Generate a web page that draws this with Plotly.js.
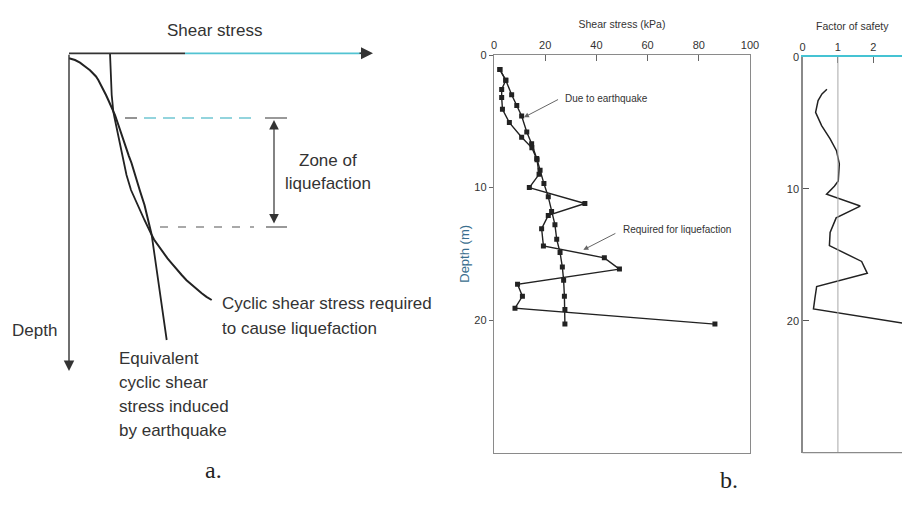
<!DOCTYPE html>
<html>
<head>
<meta charset="utf-8">
<script src="https://cdn.plot.ly/plotly-3.0.1.min.js"></script>
<style>html,body{margin:0;padding:0;background:#fff}#chart{width:902px;height:506px}</style>
</head>
<body>
<div id="chart"></div>
<script>
// ---------- Panel a: schematic curves (drawing units) ----------
const requiredCurveX = [69, 72, 75, 80, 84, 86.7, 90, 93.3, 96, 98.3, 101, 103.3, 106, 108.3, 110.6, 112.7, 115, 117.8, 120.5, 123.3, 126, 128.8, 131.5, 135.5, 140, 144.5, 148.3, 151.7, 154, 156.7, 160, 163.3, 167.5, 171.7, 176.5, 181.7, 186.5, 191.7, 196.5, 201.7, 206.5, 211.7];
const requiredCurveY = [58.3, 58.9, 60, 62.6, 65.3, 67.7, 70.3, 73.3, 76.5, 80, 84.8, 90, 95, 100, 105, 110, 115, 123.2, 131.7, 140, 148.3, 155.8, 163, 177, 191, 205, 220, 235, 239.5, 243.3, 248.5, 253.3, 258.4, 263.3, 269.3, 275, 280.2, 285, 289.4, 293.3, 296.8, 300];
const quakeCurveX = [110, 110.3, 110.7, 111.2, 111.7, 112.5, 113.3, 115, 117.5, 120, 123.3, 126.5, 131, 137.5, 144.5, 151.7, 153.8, 156.7, 159.1, 161.5, 163.9, 166.7];
const quakeCurveY = [53.3, 62, 71.7, 83, 95, 103, 111.7, 120, 132, 145, 160, 175, 190, 205, 220, 235, 250, 270, 287, 303.3, 320, 340];

// ---------- Panel b: shear stress (kPa) vs depth (m) ----------
const quakeDepth = [1.1, 1.9, 3.0, 3.8, 4.6, 5.8, 6.7, 7.8, 8.7, 9.7, 10.7, 11.8, 12.8, 13.9, 14.9, 16.0, 17.0, 18.2, 19.2, 20.3];
const quakeStress = [2.3, 4.6, 6.9, 8.9, 10.8, 12.8, 14.7, 16.7, 18.0, 19.5, 21.2, 22.5, 23.8, 24.5, 25.8, 26.7, 27.2, 27.5, 27.7, 27.7];
const reqDepth = [1.1, 1.9, 2.6, 3.2, 4.1, 5.1, 6.2, 7.0, 7.9, 9.0, 10.0, 11.2, 12.1, 13.1, 14.4, 15.3, 16.15, 17.3, 18.2, 19.1, 20.3];
const reqStress = [2.3, 4.6, 3.0, 3.0, 3.3, 6.0, 10.8, 14.8, 16.8, 17.6, 13.8, 35.5, 21.2, 18.6, 19.3, 43.1, 49.0, 9.2, 11.1, 8.2, 86.3];

// ---------- Panel c: factor of safety vs depth (m) ----------
const fsDepth = [2.45, 2.8, 3.3, 4.2, 5.2, 6.2, 7.1, 8.1, 9.4, 9.8, 10.4, 11.3, 12.2, 13.3, 14.3, 15.5, 16.4, 17.4, 18.3, 19.1, 20.3];
const fsValue = [0.69, 0.55, 0.44, 0.37, 0.54, 0.78, 0.96, 1.04, 1.01, 0.9, 0.68, 1.63, 0.95, 0.78, 0.76, 1.67, 1.83, 0.4, 0.35, 0.31, 3.1];

const stressTicks = [0, 20, 40, 60, 80, 100];
const depthTicks = [0, 10, 20];
const fsTicks = [0, 1, 2];

const FONT = 'Liberation Sans, Arial, sans-serif';
const INK = '#222';

const traces = [
  // panel a
  {x: requiredCurveX, y: requiredCurveY, xaxis: 'x', yaxis: 'y', mode: 'lines', line: {color: INK, width: 2}, hoverinfo: 'skip'},
  {x: quakeCurveX, y: quakeCurveY, xaxis: 'x', yaxis: 'y', mode: 'lines', line: {color: INK, width: 1.8}, hoverinfo: 'skip'},
  // panel b
  {x: quakeStress, y: quakeDepth, xaxis: 'x2', yaxis: 'y2', mode: 'lines+markers', line: {color: INK, width: 1.4}, marker: {symbol: 'square', size: 5, color: INK}},
  {x: reqStress, y: reqDepth, xaxis: 'x2', yaxis: 'y2', mode: 'lines+markers', line: {color: INK, width: 1.4}, marker: {symbol: 'square', size: 5, color: INK}},
  // panel c
  {x: fsValue, y: fsDepth, xaxis: 'x3', yaxis: 'y3', mode: 'lines', line: {color: INK, width: 1.5}}
];

const hidden = {visible: false, showgrid: false, zeroline: false, fixedrange: true};

const layout = {
  width: 902, height: 506,
  margin: {l: 0, r: 0, t: 0, b: 0},
  paper_bgcolor: '#fff', plot_bgcolor: 'rgba(0,0,0,0)',
  showlegend: false,
  font: {family: FONT, color: '#333'},
  xaxis: Object.assign({domain: [0, 450 / 902], range: [0, 450]}, hidden),
  yaxis: Object.assign({domain: [0, 1], range: [506, 0]}, hidden),
  xaxis2: {
    domain: [494 / 902, 750 / 902], anchor: 'y2', side: 'top', range: [0, 100],
    tickvals: stressTicks, ticks: 'inside', ticklen: 6, tickcolor: '#666',
    showline: true, mirror: true, linecolor: '#8a8a8a', linewidth: 1.2,
    showgrid: false, zeroline: false, tickfont: {size: 11, color: '#333'},
    title: {text: 'Shear stress (kPa)', font: {size: 10.5, color: '#333'}, standoff: 8}
  },
  yaxis2: {
    domain: [1 - 452.7 / 506, 1 - 55 / 506], anchor: 'x2', range: [30, 0],
    tickvals: depthTicks, ticks: 'outside', ticklen: 4, tickcolor: '#666',
    showline: true, mirror: true, linecolor: '#8a8a8a', linewidth: 1.2,
    showgrid: false, zeroline: false, tickfont: {size: 11, color: '#333'},
    title: {text: 'Depth (m)', font: {size: 13, color: '#3a6e8e'}, standoff: 1}
  },
  xaxis3: {
    domain: [802.5 / 902, 1], anchor: 'y3', side: 'top', range: [0, 2.81],
    tickvals: fsTicks, ticks: 'inside', ticklen: 6, tickcolor: '#666',
    showline: true, mirror: false, linecolor: '#45c3d3', linewidth: 2,
    showgrid: false, zeroline: false, tickfont: {size: 11, color: '#333'},
    title: {text: 'Factor of safety', font: {size: 10.5, color: '#333'}, standoff: 8}
  },
  yaxis3: {
    domain: [1 - 452.7 / 506, 1 - 57 / 506], anchor: 'x3', range: [30, 0],
    tickvals: depthTicks, ticks: 'inside', ticklen: 6, tickcolor: '#555',
    showline: true, linecolor: '#8a8a8a', linewidth: 1.2,
    showgrid: false, zeroline: false, tickfont: {size: 11, color: '#333'}
  },
  shapes: [
    // panel a axis line (dark part, cyan part)
    {type: 'line', xref: 'x', yref: 'y', x0: 69, x1: 185, y0: 53.3, y1: 53.3, line: {color: '#333', width: 1.8}},
    {type: 'line', xref: 'x', yref: 'y', x0: 185, x1: 362, y0: 53.3, y1: 53.3, line: {color: '#52c3d2', width: 1.8}},
    // zone of liquefaction dashed lines
    {type: 'line', xref: 'x', yref: 'y', x0: 125, x1: 137, y0: 118, y1: 118, line: {color: '#666', width: 1.4}},
    {type: 'line', xref: 'x', yref: 'y', x0: 144, x1: 255, y0: 118, y1: 118, line: {color: '#70c6d2', width: 1.4, dash: '12px,7px'}},
    {type: 'line', xref: 'x', yref: 'y', x0: 265, x1: 287, y0: 118, y1: 118, line: {color: '#555', width: 1.2}},
    {type: 'line', xref: 'x', yref: 'y', x0: 160, x1: 254, y0: 227, y1: 227, line: {color: '#555', width: 1.2, dash: '8px,10px'}},
    {type: 'line', xref: 'x', yref: 'y', x0: 266, x1: 287, y0: 227, y1: 227, line: {color: '#555', width: 1.2}},
    // FS = 1 reference line
    {type: 'line', xref: 'x3', yref: 'y3 domain', x0: 1, x1: 1, y0: 0, y1: 1, line: {color: '#a8a8a8', width: 1}},
    // panel c bottom border
    {type: 'line', xref: 'x3 domain', yref: 'y3 domain', x0: 0, x1: 1, y0: 0, y1: 0, line: {color: '#8a8a8a', width: 1.2}}
  ],
  annotations: [
    // panel a arrows
    {xref: 'x', yref: 'y', axref: 'x', ayref: 'y', x: 373, y: 53.3, ax: 358, ay: 53.3, text: '', showarrow: true, arrowhead: 2, arrowsize: 1.5, arrowwidth: 1.6, arrowcolor: '#333'},
    {xref: 'x', yref: 'y', axref: 'x', ayref: 'y', x: 69, y: 371, ax: 69, ay: 53.3, text: '', showarrow: true, arrowhead: 2, arrowsize: 1.5, arrowwidth: 1.4, arrowcolor: '#333'},
    {xref: 'x', yref: 'y', axref: 'x', ayref: 'y', x: 274, y: 120, ax: 274, ay: 225, text: '', showarrow: true, arrowhead: 2, arrowside: 'end+start', arrowsize: 1.6, arrowwidth: 1.2, arrowcolor: '#333'},
    // panel a text
    {xref: 'x', yref: 'y', x: 214, y: 30, text: 'Shear stress', showarrow: false, font: {size: 17, color: '#333'}},
    {xref: 'x', yref: 'y', x: 34, y: 330, text: 'Depth', showarrow: false, font: {size: 17, color: '#333'}},
    {xref: 'x', yref: 'y', x: 328, y: 160, text: 'Zone of', showarrow: false, font: {size: 17, color: '#333'}},
    {xref: 'x', yref: 'y', x: 328, y: 183, text: 'liquefaction', showarrow: false, font: {size: 17, color: '#333'}},
    {xref: 'x', yref: 'y', x: 220, y: 303, xanchor: 'left', text: 'Cyclic shear stress required', showarrow: false, font: {size: 17, color: '#333'}},
    {xref: 'x', yref: 'y', x: 220, y: 328, xanchor: 'left', text: 'to cause liquefaction', showarrow: false, font: {size: 17, color: '#333'}},
    {xref: 'x', yref: 'y', x: 117, y: 358, xanchor: 'left', text: 'Equivalent', showarrow: false, font: {size: 17, color: '#333'}},
    {xref: 'x', yref: 'y', x: 117, y: 382, xanchor: 'left', text: 'cyclic shear', showarrow: false, font: {size: 17, color: '#333'}},
    {xref: 'x', yref: 'y', x: 117, y: 406, xanchor: 'left', text: 'stress induced', showarrow: false, font: {size: 17, color: '#333'}},
    {xref: 'x', yref: 'y', x: 117, y: 430, xanchor: 'left', text: 'by earthquake', showarrow: false, font: {size: 17, color: '#333'}},
    // panel b callouts
    {xref: 'x2', yref: 'y2', x: 26.8, y: 3.26, xanchor: 'left', text: 'Due to earthquake', showarrow: false, font: {size: 10, color: '#333'}},
    {xref: 'x2', yref: 'y2', axref: 'x2', ayref: 'y2', x: 11.7, y: 4.7, ax: 25.6, ay: 3.3, text: '', showarrow: true, arrowhead: 2, arrowsize: 1, arrowwidth: 1, arrowcolor: '#666'},
    {xref: 'x2', yref: 'y2', x: 49.6, y: 13.19, xanchor: 'left', text: 'Required for liquefaction', showarrow: false, font: {size: 10, color: '#333'}},
    {xref: 'x2', yref: 'y2', axref: 'x2', ayref: 'y2', x: 34.9, y: 14.7, ax: 48.0, ay: 13.4, text: '', showarrow: true, arrowhead: 2, arrowsize: 1, arrowwidth: 1, arrowcolor: '#666'},
    // sub-figure labels
    {xref: 'paper', yref: 'paper', x: 203 / 902, y: 1 - 485 / 506, text: 'a.', showarrow: false, font: {family: 'Liberation Serif, Times New Roman, serif', size: 24, color: '#222'}},
    {xref: 'paper', yref: 'paper', x: 740 / 902, y: 1 - 495 / 506, text: 'b.', showarrow: false, font: {family: 'Liberation Serif, Times New Roman, serif', size: 24, color: '#222'}}
  ]
};

Plotly.newPlot('chart', traces, layout, {staticPlot: true, displayModeBar: false});
</script>
</body>
</html>
